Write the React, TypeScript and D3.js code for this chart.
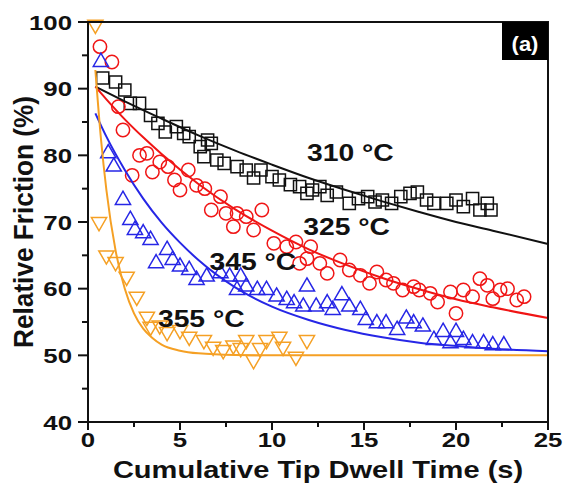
import React from 'react';
import * as d3 from 'd3';

// measured points (time s, relative friction %)
const sq310: [number, number][] = [
  [0.8, 91.6], [1.5, 91.0], [2.0, 89.8], [2.3, 87.8], [2.8, 87.8], [3.4, 86.0], [3.8, 84.8], [4.2, 83.5],
  [4.8, 84.3], [5.2, 83.3], [5.5, 82.8], [6.1, 81.3], [6.3, 79.8], [6.5, 82.3], [6.7, 81.8], [7.0, 79.3],
  [7.4, 78.8], [8.1, 78.3], [8.6, 77.8], [9.0, 76.6], [9.4, 77.8], [10.0, 76.8], [10.4, 76.3], [11.0, 75.6],
  [11.5, 75.3], [11.9, 74.3], [12.2, 74.8], [12.6, 75.3], [13.0, 74.0], [13.5, 74.5], [14.2, 72.8], [14.7, 73.5],
  [15.2, 73.8], [15.6, 73.0], [16.0, 73.3], [16.5, 72.8], [17.0, 73.8], [17.5, 74.3], [17.9, 74.5], [18.4, 73.3],
  [18.8, 72.8], [19.5, 72.8], [20.0, 73.3], [20.4, 72.3], [20.9, 73.5], [21.3, 71.8], [21.7, 72.8], [21.9, 71.8],
];
const ci325: [number, number][] = [
  [0.65, 96.3], [1.3, 94.0], [1.65, 87.3], [1.9, 83.8], [2.4, 77.0], [2.8, 80.0], [3.2, 80.3], [3.5, 77.5],
  [3.9, 79.0], [4.35, 78.3], [4.7, 76.3], [5.0, 74.8], [5.45, 77.8], [5.9, 75.5], [6.35, 75.0], [6.7, 71.8],
  [7.2, 73.8], [7.5, 71.3], [7.9, 69.3], [8.1, 71.3], [8.6, 70.8], [9.0, 68.8], [9.45, 71.8], [10.1, 66.8],
  [10.8, 66.3], [11.3, 67.0], [11.5, 63.8], [11.9, 64.5], [12.1, 66.3], [12.6, 63.8], [13.0, 62.3], [13.7, 64.3],
  [14.2, 62.8], [14.8, 62.0], [15.3, 60.8], [15.7, 62.5], [16.2, 61.3], [16.6, 60.8], [17.1, 59.8], [17.7, 60.3],
  [18.0, 59.8], [18.6, 59.3], [19.0, 58.0], [19.7, 59.5], [20.0, 56.3], [20.4, 59.8], [20.9, 58.8], [21.3, 61.5],
  [21.7, 60.5], [22.0, 58.5], [22.4, 59.8], [22.8, 60.0], [23.3, 58.3], [23.7, 58.8],
];
const tri345: [number, number][] = [
  [0.7, 94.0], [1.1, 80.3], [1.4, 78.3], [1.9, 73.3], [2.3, 70.3], [2.55, 68.8], [3.0, 68.3], [3.4, 67.3],
  [3.7, 63.8], [4.3, 65.8], [4.6, 64.3], [5.0, 63.3], [5.5, 62.8], [5.9, 61.3], [6.45, 61.8], [7.2, 62.3],
  [7.7, 61.8], [8.1, 59.8], [8.3, 61.8], [8.6, 60.3], [9.2, 59.8], [9.7, 59.8], [10.25, 58.8], [10.8, 58.3],
  [11.2, 57.8], [11.7, 57.3], [11.9, 60.3], [12.4, 57.3], [13.0, 57.8], [13.3, 56.8], [13.8, 59.0], [14.2, 57.3],
  [14.8, 56.8], [15.1, 55.3], [15.7, 54.8], [16.2, 54.8], [16.8, 53.8], [17.3, 55.5], [17.7, 54.8], [18.2, 54.3],
  [18.8, 52.3], [19.3, 53.5], [19.7, 51.8], [20.0, 53.5], [20.4, 52.3], [20.9, 51.8], [21.5, 51.8], [22.0, 51.5],
  [22.6, 51.5],
];
const dtri355: [number, number][] = [
  [0.4, 99.6], [0.6, 70.0], [1.0, 65.0], [1.5, 64.0], [2.1, 61.8], [2.65, 58.8], [3.2, 55.8], [3.4, 54.3],
  [3.9, 54.5], [4.3, 53.5], [5.0, 53.8], [5.5, 52.8], [6.3, 52.3], [6.8, 51.3], [7.35, 50.8], [7.9, 51.5],
  [8.3, 51.1], [8.6, 52.3], [9.0, 49.3], [9.35, 51.1], [9.7, 52.3], [10.4, 52.8], [10.6, 51.3], [11.3, 49.8],
  [11.9, 52.3],
];

// fitted curves
const fit310: [number, number][] = [
  [0.4, 90.3], [2, 88.1], [4, 85.5], [6, 83.0], [8, 80.7], [10, 78.6], [12, 76.6], [14, 74.8],
  [16, 73.1], [18, 71.5], [20, 70.0], [22, 68.7], [25, 66.7],
];
const fit325: [number, number][] = [
  [0.4, 90.3], [1, 88.4], [2, 85.4], [3, 82.7], [4, 80.2], [6, 75.7], [8, 71.9], [10, 68.7], [12, 65.9],
  [14, 63.6], [16, 61.6], [18, 59.9], [20, 58.4], [22, 57.2], [25, 55.6],
];
const fit345: [number, number][] = [
  [0.4, 86.3], [1, 82.8], [2, 77.8], [3, 73.5], [4, 69.9], [5, 66.9], [6, 64.3], [8, 60.2], [10, 57.3],
  [12, 55.3], [14, 53.8], [16, 52.7], [18, 51.9], [20, 51.4], [22, 51.0], [25, 50.6],
];
const fit355: [number, number][] = [
  [0.4, 92.8], [0.7, 82.6], [1, 74.8], [1.5, 65.7], [2, 60.0], [2.5, 56.3], [3, 54.0], [3.5, 52.6],
  [4, 51.6], [5, 50.7], [6, 50.3], [8, 50.05], [10, 50], [25, 50],
];

const xTicks = [0, 5, 10, 15, 20, 25];
const xMinor = [2.5, 7.5, 12.5, 17.5, 22.5];
const yTicks = [40, 50, 60, 70, 80, 90, 100];
const yMinor = [45, 55, 65, 75, 85, 95];

const labels = [
  { text: '310 °C', t: 11.9, v: 79.2 },
  { text: '325 °C', t: 11.7, v: 68.1 },
  { text: '345 °C', t: 6.6, v: 62.8 },
  { text: '355 °C', t: 3.8, v: 54.2 },
];

const FONT = "Arial, 'Liberation Sans', sans-serif";
const BLACK = '#111';
const RED = '#f01515';
const BLUE = '#2626e6';
const ORANGE = '#f5a024';

function Txt({ x, y, size, anchor = 'start', sx = 1.23, fill = BLACK, children }: any) {
  return (
    <text
      transform={`translate(${x},${y}) scale(${sx},1)`}
      textAnchor={anchor}
      fontSize={size}
      fontWeight="bold"
      fontFamily={FONT}
      fill={fill}
    >
      {children}
    </text>
  );
}

export default function App() {
  const width = 567;
  const height = 487;
  const m = { left: 88, right: 548, top: 22, bottom: 422 };

  const x = d3.scaleLinear().domain([0, 25]).range([m.left, m.right]);
  const y = d3.scaleLinear().domain([40, 100]).range([m.bottom, m.top]);

  const line = d3
    .line<[number, number]>()
    .x((d) => x(d[0]))
    .y((d) => y(d[1]))
    .curve(d3.curveMonotoneX);

  const square = d3.symbol().type(d3.symbolSquare).size(148)()!;
  const circle = d3.symbol().type(d3.symbolCircle).size(140)()!;
  const tri = d3.symbol().type(d3.symbolTriangle).size(100)()!;

  const marks = (data: [number, number][], path: string, color: string, rot = 0) =>
    data.map((d, i) => (
      <path
        key={i}
        d={path}
        transform={`translate(${x(d[0])},${y(d[1])})${rot ? ` rotate(${rot})` : ''}`}
        fill="none"
        stroke={color}
        strokeWidth={1.5}
      />
    ));

  return (
    <svg width={width} height={height} style={{ position: 'absolute', left: 0, top: 0 }}>
      <rect width={width} height={height} fill="#fff" />

      {/* markers */}
      <g>{marks(sq310, square, BLACK)}</g>
      <g>{marks(ci325, circle, RED)}</g>
      <g>{marks(tri345, tri, BLUE)}</g>
      <g>{marks(dtri355, tri, ORANGE, 180)}</g>

      {/* fit lines */}
      <path d={line(fit310)!} fill="none" stroke={BLACK} strokeWidth={2} />
      <path d={line(fit325)!} fill="none" stroke={RED} strokeWidth={2} />
      <path d={line(fit345)!} fill="none" stroke={BLUE} strokeWidth={2} />
      <path d={line(fit355)!} fill="none" stroke={ORANGE} strokeWidth={2} />

      {/* frame */}
      <rect x={m.left} y={m.top} width={m.right - m.left} height={m.bottom - m.top} fill="none" stroke={BLACK} strokeWidth={2} />

      {/* y axis ticks */}
      {yTicks.map((v) => (
        <g key={v}>
          <line x1={m.left - 10} x2={m.left} y1={y(v)} y2={y(v)} stroke={BLACK} strokeWidth={2} />
          <Txt x={m.left - 16} y={y(v) + 7.5} size={21} anchor="end">{v}</Txt>
        </g>
      ))}
      {yMinor.map((v) => (
        <line key={v} x1={m.left - 6} x2={m.left} y1={y(v)} y2={y(v)} stroke={BLACK} strokeWidth={2} />
      ))}

      {/* x axis ticks */}
      {xTicks.map((t) => (
        <g key={t}>
          <line x1={x(t)} x2={x(t)} y1={m.bottom} y2={m.bottom + 8} stroke={BLACK} strokeWidth={2} />
          <Txt x={x(t)} y={447} size={21} anchor="middle">{t}</Txt>
        </g>
      ))}
      {xMinor.map((t) => (
        <line key={t} x1={x(t)} x2={x(t)} y1={m.bottom} y2={m.bottom + 5} stroke={BLACK} strokeWidth={2} />
      ))}

      {/* axis titles */}
      <Txt x={(m.left + m.right) / 2} y={478} size={24} anchor="middle" sx={1.21}>
        Cumulative Tip Dwell Time (s)
      </Txt>
      <text
        transform="translate(33,222) rotate(-90) scale(1,1.15)"
        textAnchor="middle"
        fontSize={24}
        fontWeight="bold"
        fontFamily={FONT}
        fill={BLACK}
        textLength={252}
        lengthAdjust="spacingAndGlyphs"
      >
        Relative Friction (%)
      </text>

      {/* series labels */}
      {labels.map((l) => (
        <Txt key={l.text} x={x(l.t)} y={y(l.v)} size={23}>{l.text}</Txt>
      ))}

      {/* panel tag */}
      <rect x={502} y={22} width={46} height={38} fill="#000" />
      <Txt x={525} y={51} size={20} anchor="middle" sx={1.1} fill="#fff">(a)</Txt>
    </svg>
  );
}
